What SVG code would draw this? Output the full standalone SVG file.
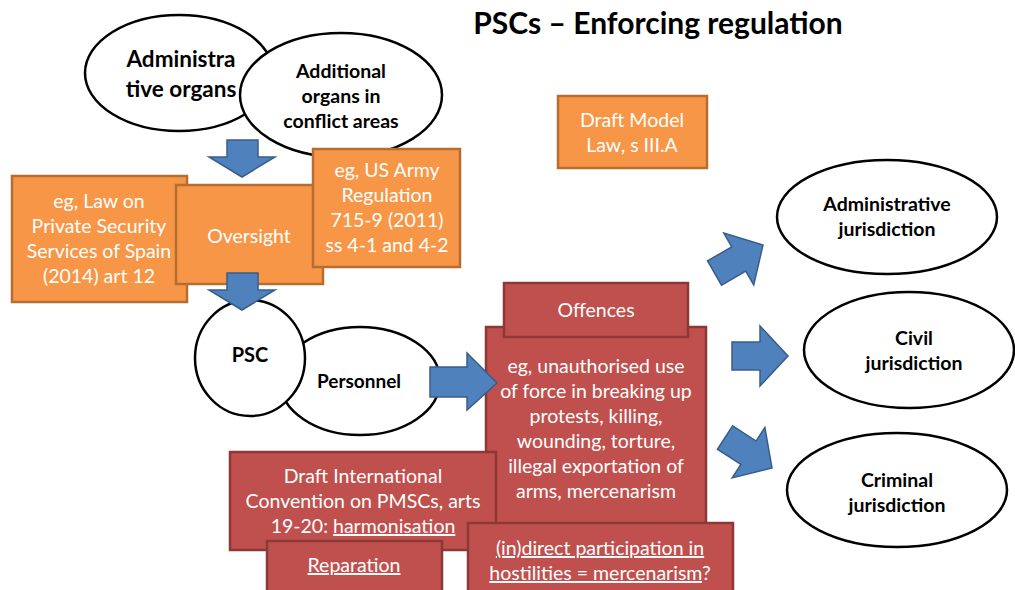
<svg xmlns="http://www.w3.org/2000/svg" width="1015" height="590" viewBox="0 0 1015 590">
<style>
.ell{fill:#fff;stroke:#000;stroke-width:2.5}
.bt{font-family:Lato,"Liberation Sans",sans-serif;font-weight:bold;fill:#000;text-anchor:middle}
.wt{font-family:Lato,"Liberation Sans",sans-serif;fill:#fff;text-anchor:middle;font-size:19.5px}
.or{fill:#F79646;stroke:#B66D31;stroke-width:2.5}
.rd{fill:#C0504D;stroke:#8C3836;stroke-width:2.5}
.ar{fill:#4F81BD;stroke:#385D8A;stroke-width:1.5}
.u{text-decoration:underline}
</style>
<defs>
<polygon id="ra" points="-56,-14 -28,-14 -28,-30 0,0 -28,30 -28,14 -56,14"/>
</defs>
<rect width="1015" height="590" fill="#fff"/>
<text x="658" y="34" class="bt" font-size="30">PSCs – Enforcing regulation</text>

<g id="admin-organs"><ellipse class="ell" cx="179" cy="73" rx="94" ry="58"/>
<text class="bt" font-size="22.5"><tspan x="181" y="67">Administra</tspan><tspan x="181" y="97">tive organs</tspan></text></g>
<g id="additional-organs"><ellipse class="ell" cx="341" cy="95" rx="101" ry="62"/>
<text class="bt" font-size="19.5"><tspan x="341" y="78">Additional</tspan><tspan x="341" y="103">organs in</tspan><tspan x="341" y="128">conflict areas</tspan></text></g>

<g id="spain"><rect class="or" x="12" y="176" width="175" height="126"/>
<text class="wt"><tspan x="99" y="208">eg, Law on</tspan><tspan x="99" y="233">Private Security</tspan><tspan x="99" y="258">Services of Spain</tspan><tspan x="99" y="283">(2014) art 12</tspan></text></g>
<g id="oversight"><rect class="or" x="176" y="185" width="147" height="99"/>
<text class="wt" x="249" y="243">Oversight</text></g>
<g id="usarmy"><rect class="or" x="313" y="149" width="147" height="118"/>
<text class="wt"><tspan x="387" y="177">eg, US Army</tspan><tspan x="387" y="202">Regulation</tspan><tspan x="387" y="227">715-9 (2011)</tspan><tspan x="387" y="252">ss 4-1 and 4-2</tspan></text></g>
<g id="draftmodel"><rect class="or" x="558" y="96" width="149" height="72"/>
<text class="wt"><tspan x="632" y="127">Draft Model</tspan><tspan x="632" y="152">Law, s III.A</tspan></text></g>

<g id="personnel"><ellipse class="ell" cx="360" cy="381" rx="80" ry="54"/>
<text class="bt" font-size="19" x="359" y="388">Personnel</text></g>
<g id="psc"><ellipse class="ell" cx="250" cy="358" rx="55" ry="58"/>
<text class="bt" font-size="20" x="250" y="362">PSC</text></g>

<g id="offences-body"><rect class="rd" x="486" y="327" width="220" height="200"/>
<text class="wt"><tspan x="596" y="373">eg, unauthorised use</tspan><tspan x="596" y="398">of force in breaking up</tspan><tspan x="596" y="423">protests, killing,</tspan><tspan x="596" y="448">wounding, torture,</tspan><tspan x="596" y="473">illegal exportation of</tspan><tspan x="596" y="498">arms, mercenarism</tspan></text></g>
<g id="offences"><rect class="rd" x="504" y="283" width="184" height="54"/>
<text class="wt" x="596" y="317">Offences</text></g>
<g id="convention"><rect class="rd" x="230" y="452" width="266" height="98"/>
<text class="wt"><tspan x="363" y="483">Draft International</tspan><tspan x="363" y="508">Convention on PMSCs, arts</tspan><tspan x="363" y="533">19-20: <tspan class="u">harmonisation</tspan></tspan></text></g>
<g id="reparation"><rect class="rd" x="267" y="541" width="175" height="52"/>
<text class="wt" x="354" y="572"><tspan class="u">Reparation</tspan></text></g>
<g id="participation"><rect class="rd" x="468" y="523" width="265" height="70"/>
<text class="wt"><tspan x="600" y="555" class="u">(in)direct participation in</tspan><tspan x="600" y="580"><tspan class="u">hostilities = mercenarism</tspan>?</tspan></text></g>

<g id="admin-jur"><ellipse class="ell" cx="887" cy="217" rx="110" ry="57"/>
<text class="bt" font-size="19.5"><tspan x="887" y="211">Administrative</tspan><tspan x="887" y="236">jurisdiction</tspan></text></g>
<g id="civil-jur"><ellipse class="ell" cx="909" cy="350" rx="105" ry="58"/>
<text class="bt" font-size="19.5"><tspan x="914" y="345">Civil</tspan><tspan x="914" y="370">jurisdiction</tspan></text></g>
<g id="criminal-jur"><ellipse class="ell" cx="897" cy="490" rx="110" ry="57"/>
<text class="bt" font-size="19.5"><tspan x="897" y="487">Criminal</tspan><tspan x="897" y="512">jurisdiction</tspan></text></g>

<g id="connectors">
<polygon class="ar" points="227,140 258,140 258,157 275,157 242,177 209,157 227,157"/>
<polygon class="ar" points="227,273 258,273 258,290 275,290 242,310 209,290 227,290"/>
<polygon class="ar" points="430,367 467,367 467,353 497,383 467,410 467,397 430,397"/>
<use href="#ra" class="ar" transform="translate(763,245) rotate(-30)"/>
<use href="#ra" class="ar" transform="translate(788,356)"/>
<use href="#ra" class="ar" transform="translate(772,468) rotate(33)"/>
</g>
</svg>
